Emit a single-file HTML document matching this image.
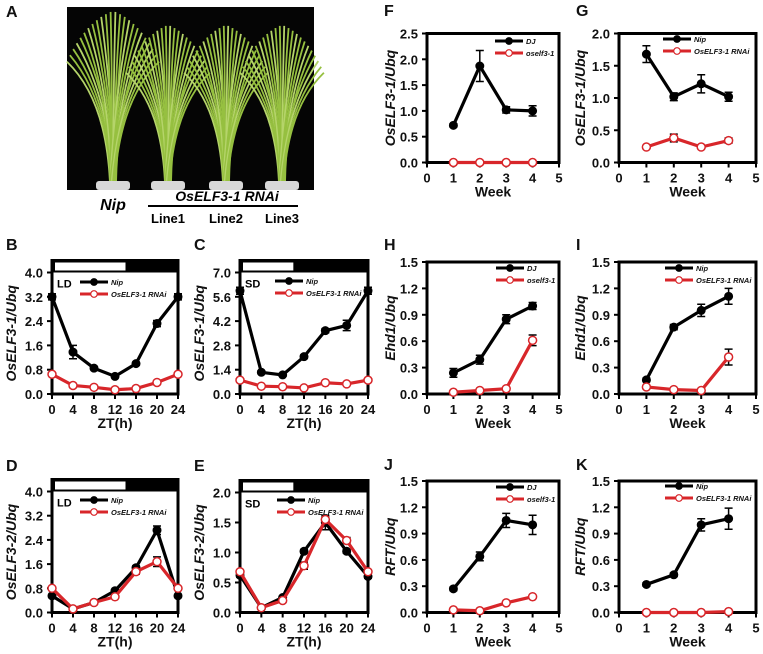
<!DOCTYPE html>
<html><head><meta charset="utf-8">
<style>
html,body{margin:0;padding:0;background:#fff;}
svg{display:block;font-family:"Liberation Sans",Arial,sans-serif;}
.tk{font-size:13px;font-weight:bold;fill:#111;}
.ttl{font-size:14px;font-weight:bold;font-style:italic;fill:#111;}
.xt{font-size:14px;font-weight:bold;fill:#111;}
.lg{font-size:7.5px;font-weight:bold;font-style:italic;fill:#111;}
.pl{font-size:16px;font-weight:bold;fill:#111;}
</style></head>
<body>
<svg id="fig" width="763" height="654" viewBox="0 0 763 654">
  <g>
    <text class="pl" x="6" y="17">A</text>
    <rect x="67" y="7" width="247" height="183" fill="#050505"/>
    <g id="plants"></g>
    <text x="113" y="210" text-anchor="middle" style="font-size:16px;font-weight:bold;font-style:italic">Nip</text>
    <text x="227" y="201" text-anchor="middle" style="font-size:14px;font-weight:bold;font-style:italic">OsELF3-1  RNAi</text>
    <line x1="148" y1="206" x2="298" y2="206" stroke="#000" stroke-width="2"/>
    <text x="168" y="223" text-anchor="middle" style="font-size:13px;font-weight:bold">Line1</text>
    <text x="226" y="223" text-anchor="middle" style="font-size:13px;font-weight:bold">Line2</text>
    <text x="282" y="223" text-anchor="middle" style="font-size:13px;font-weight:bold">Line3</text>
  </g>
</svg>
<script>
// ---- data ----
const ztHours=[0,4,8,12,16,20,24];
const weeks=[1,2,3,4];
const bNip=[3.2,1.38,0.85,0.58,1.0,2.32,3.2];
const bNipErr=[0.1,0.22,0.05,0.05,0.05,0.1,0.1];
const bRnai=[0.65,0.28,0.22,0.14,0.18,0.38,0.65];
const bRnaiErr=[0.03,0.02,0.02,0.02,0.02,0.03,0.03];
const cNip=[5.95,1.25,1.1,2.15,3.65,3.95,5.95];
const cNipErr=[0.2,0.08,0.08,0.1,0.12,0.3,0.2];
const cRnai=[0.8,0.45,0.42,0.35,0.65,0.58,0.8];
const cRnaiErr=[0.05,0.04,0.04,0.04,0.05,0.05,0.05];
const dNip=[0.55,0.12,0.33,0.72,1.48,2.72,0.55];
const dNipErr=[0.05,0.03,0.03,0.05,0.06,0.14,0.05];
const dRnai=[0.8,0.12,0.33,0.52,1.35,1.68,0.8];
const dRnaiErr=[0.05,0.03,0.03,0.04,0.08,0.16,0.05];
const eNip=[0.62,0.08,0.25,1.02,1.5,1.02,0.6];
const eNipErr=[0.03,0.02,0.02,0.03,0.12,0.03,0.03];
const eRnai=[0.68,0.08,0.2,0.78,1.55,1.2,0.68];
const eRnaiErr=[0.03,0.02,0.02,0.06,0.05,0.05,0.03];
const fDJ=[0.72,1.87,1.02,1.0];
const fDJErr=[0.03,0.3,0.06,0.1];
const fMut=[0,0,0,0];
const fMutErr=[0,0,0,0];
const gNip=[1.68,1.02,1.22,1.02];
const gNipErr=[0.13,0.06,0.14,0.07];
const gRnai=[0.24,0.38,0.24,0.34];
const gRnaiErr=[0.02,0.06,0.02,0.04];
const hDJ=[0.24,0.39,0.85,1.0];
const hDJErr=[0.05,0.05,0.05,0.04];
const hMut=[0.02,0.04,0.06,0.61];
const hMutErr=[0.01,0.01,0.01,0.06];
const iNip=[0.16,0.76,0.95,1.11];
const iNipErr=[0.02,0.03,0.07,0.09];
const iRnai=[0.08,0.05,0.04,0.42];
const iRnaiErr=[0.01,0.01,0.01,0.09];
const jDJ=[0.27,0.64,1.05,1.0];
const jDJErr=[0.02,0.05,0.08,0.11];
const jMut=[0.03,0.02,0.11,0.18];
const jMutErr=[0.01,0.01,0.01,0.01];
const kNip=[0.32,0.43,1.0,1.07];
const kNipErr=[0.02,0.02,0.07,0.12];
const kRnai=[0,0,0,0.01];
const kRnaiErr=[0,0,0,0];
const ticksB=[0,0.8,1.6,2.4,3.2,4.0];
const ticksC=[0,1.4,2.8,4.2,5.6,7.0];
const ticksE=[0,0.5,1.0,1.5,2.0];
const ticksF=[0,0.5,1.0,1.5,2.0,2.5];
const ticksW=[0,0.3,0.6,0.9,1.2,1.5];
const xTicksZT=[0,4,8,12,16,20,24];
const xTicksWeek=[0,1,2,3,4,5];

const NS='http://www.w3.org/2000/svg';
const fig=document.getElementById('fig');
function mk(tag,attrs,parent){const e=document.createElementNS(NS,tag);for(const k in attrs)e.setAttribute(k,attrs[k]);(parent||fig).appendChild(e);return e;}

// plants
const pg=document.getElementById('plants');
const plantX=[113,168,226,282];
plantX.forEach((cx,pi)=>{
  for(let i=0;i<24;i++){
    const a=(i/23-0.5)*1.3;
    const len=(pi==0?172:158)-Math.abs(a)*30;
    const x2=cx+Math.sin(a)*len*0.5, y2=183-Math.cos(a)*len;
    const l=mk('path',{d:`M${cx+(i%5-2)*1.5},183 Q${cx+(x2-cx)*0.15},${183-len*0.55} ${x2},${y2}`,stroke:i%3?'#96c040':'#b5d46a',"stroke-width":1.8,fill:'none'},pg);
    
    
  }
  const pot=mk('rect',{x:cx-17,y:181,width:34,height:9,rx:3,fill:'#d8d8d8'},pg);
  
  
});

function panel(o){
  const g=mk('g',{});
  
  
  const X=v=>o.x0+(v-o.xmin)/(o.xmax-o.xmin)*(o.x1-o.x0);
  const Y=v=>o.y0-(v-0)/(o.ymax)*(o.y0-o.y1);
  const lab=mk('text',{x:o.lx,y:o.ly,class:'pl'},g);lab.textContent=o.id.toUpperCase();
  
  
  if(o.bar){
    const bt=mk('rect',{x:o.x0,y:o.y1-12,width:o.x1-o.x0,height:12,fill:'#000'},g);
    
    
    const bw=mk('rect',{x:o.x0+3,y:o.y1-10,width:X(o.bar)-o.x0-3,height:8,fill:'#fff'},g);
    
    
  }
  const top=o.bar?o.y1-12:o.y1;
  const box=mk('rect',{x:o.x0,y:top,width:o.x1-o.x0,height:o.y0-top,fill:'none',stroke:'#000','stroke-width':3},g);
  
  
  o.yt.forEach(t=>{
    const y=Y(t);
    mk('line',{x1:o.x0-5,x2:o.x0,y1:y,y2:y,stroke:'#000','stroke-width':2},g);
    const tx=mk('text',{x:o.x0-9,y:y+5,class:'tk','text-anchor':'end'},g);tx.textContent=t.toFixed(1);
    
    
  });
  o.xt.forEach(t=>{
    const x=X(t);
    mk('line',{x1:x,x2:x,y1:o.y0,y2:o.y0+5,stroke:'#000','stroke-width':2},g);
    const tx=mk('text',{x:x,y:o.y0+20,class:'tk','text-anchor':'middle'},g);tx.textContent=t;
    
    
  });
  const xl=mk('text',{x:(o.x0+o.x1)/2,y:o.y0+34,class:'xt','text-anchor':'middle'},g);xl.textContent=o.xlabel;
  
  
  const yl=mk('text',{x:0,y:0,class:'ttl','text-anchor':'middle',transform:`translate(${o.tx},${(o.y0+o.y1)/2}) rotate(-90)`},g);yl.textContent=o.ylabel;
  
  
  o.series.forEach(s=>{
    const col=s.red?'#d8262a':'#000';
    const pts=s.v.map((v,i)=>[X(o.xs[i]),Y(v)]);
    s.e.forEach((e,i)=>{ if(e>0){
      const x=pts[i][0],a=Y(s.v[i]+e),b=Y(Math.max(0,s.v[i]-e));
      const eb=mk('path',{d:`M${x},${a}V${b}M${x-4},${a}H${x+4}M${x-4},${b}H${x+4}`,stroke:'#000','stroke-width':1.5,fill:'none'},g);
      
      
    }});
    const pl=mk('polyline',{points:pts.map(p=>p.join(',')).join(' '),fill:'none',stroke:col,'stroke-width':3.2},g);
    
    
    pts.forEach(p=>{
      const c=mk('circle',{cx:p[0],cy:p[1],r:4,fill:s.red?'#fff':'#000',stroke:col,'stroke-width':s.red?1.5:1},g);
      
      
    });
    const ly=s.red?o.lgy+12:o.lgy;
    const ll=mk('line',{x1:o.lgx,x2:o.lgx+28,y1:ly,y2:ly,stroke:col,'stroke-width':3},g);
    
    
    mk('circle',{cx:o.lgx+14,cy:ly,r:3.3,fill:s.red?'#fff':'#000',stroke:col,'stroke-width':1.2},g);
    const lt=mk('text',{x:o.lgx+31,y:ly+3,class:'lg'},g);lt.textContent=s.name;
    
    
  });
  if(o.tag){const tg=mk('text',{x:o.x0+5,y:o.y1+15,style:'font-size:11px;font-weight:bold'},g);tg.textContent=o.tag;
    
    }
}
const zt={xs:ztHours,xt:xTicksZT,xmin:0,xmax:24,xlabel:'ZT(h)'};
const wk={xs:weeks,xt:xTicksWeek,xmin:0,xmax:5,xlabel:'Week'};
panel(Object.assign({},zt,{id:'b',x0:52,x1:178,y0:394,y1:272.5,ymax:4,yt:ticksB,bar:14,tag:'LD',lx:6,ly:250,tx:16,ylabel:'OsELF3-1/Ubq',lgx:80,lgy:282,
 series:[{name:'Nip',v:bNip,e:bNipErr},{name:'OsELF3-1 RNAi',v:bRnai,e:bRnaiErr,red:true}]}));
panel(Object.assign({},zt,{id:'c',x0:240,x1:368,y0:394,y1:272.5,ymax:7,yt:ticksC,bar:10,tag:'SD',lx:194,ly:250,tx:204,ylabel:'OsELF3-1/Ubq',lgx:275,lgy:281,
 series:[{name:'Nip',v:cNip,e:cNipErr},{name:'OsELF3-1 RNAi',v:cRnai,e:cRnaiErr,red:true}]}));
panel(Object.assign({},zt,{id:'d',x0:52,x1:178,y0:612.5,y1:491.5,ymax:4,yt:ticksB,bar:14,tag:'LD',lx:6,ly:471,tx:16,ylabel:'OsELF3-2/Ubq',lgx:80,lgy:500,
 series:[{name:'Nip',v:dNip,e:dNipErr},{name:'OsELF3-1 RNAi',v:dRnai,e:dRnaiErr,red:true}]}));
panel(Object.assign({},zt,{id:'e',x0:240,x1:368,y0:612.5,y1:492.5,ymax:2,yt:ticksE,bar:10,tag:'SD',lx:194,ly:471,tx:204,ylabel:'OsELF3-2/Ubq',lgx:277,lgy:500,
 series:[{name:'Nip',v:eNip,e:eNipErr},{name:'OsELF3-1 RNAi',v:eRnai,e:eRnaiErr,red:true}]}));
panel(Object.assign({},wk,{id:'f',x0:427,x1:559,y0:162.5,y1:33.5,ymax:2.5,yt:ticksF,lx:384,ly:16,tx:395,ylabel:'OsELF3-1/Ubq',lgx:495,lgy:41,
 series:[{name:'DJ',v:fDJ,e:fDJErr},{name:'oself3-1',v:fMut,e:fMutErr,red:true}]}));
panel(Object.assign({},wk,{id:'g',x0:619,x1:756,y0:162.5,y1:33.5,ymax:2,yt:ticksE,lx:576,ly:16,tx:585,ylabel:'OsELF3-1/Ubq',lgx:663,lgy:39,
 series:[{name:'Nip',v:gNip,e:gNipErr},{name:'OsELF3-1 RNAi',v:gRnai,e:gRnaiErr,red:true}]}));
panel(Object.assign({},wk,{id:'h',x0:427,x1:559,y0:394,y1:262,ymax:1.5,yt:ticksW,lx:384,ly:250,tx:395,ylabel:'Ehd1/Ubq',lgx:496,lgy:268,
 series:[{name:'DJ',v:hDJ,e:hDJErr},{name:'oself3-1',v:hMut,e:hMutErr,red:true}]}));
panel(Object.assign({},wk,{id:'i',x0:619,x1:756,y0:394,y1:262,ymax:1.5,yt:ticksW,lx:576,ly:250,tx:585,ylabel:'Ehd1/Ubq',lgx:665,lgy:268,
 series:[{name:'Nip',v:iNip,e:iNipErr},{name:'OsELF3-1 RNAi',v:iRnai,e:iRnaiErr,red:true}]}));
panel(Object.assign({},wk,{id:'j',x0:427,x1:559,y0:612.5,y1:481,ymax:1.5,yt:ticksW,lx:384,ly:470,tx:395,ylabel:'RFT/Ubq',lgx:496,lgy:487,
 series:[{name:'DJ',v:jDJ,e:jDJErr},{name:'oself3-1',v:jMut,e:jMutErr,red:true}]}));
panel(Object.assign({},wk,{id:'k',x0:619,x1:756,y0:612.5,y1:481,ymax:1.5,yt:ticksW,lx:576,ly:470,tx:585,ylabel:'RFT/Ubq',lgx:665,lgy:486,
 series:[{name:'Nip',v:kNip,e:kNipErr},{name:'OsELF3-1 RNAi',v:kRnai,e:kRnaiErr,red:true}]}));
</script>
</body></html>
